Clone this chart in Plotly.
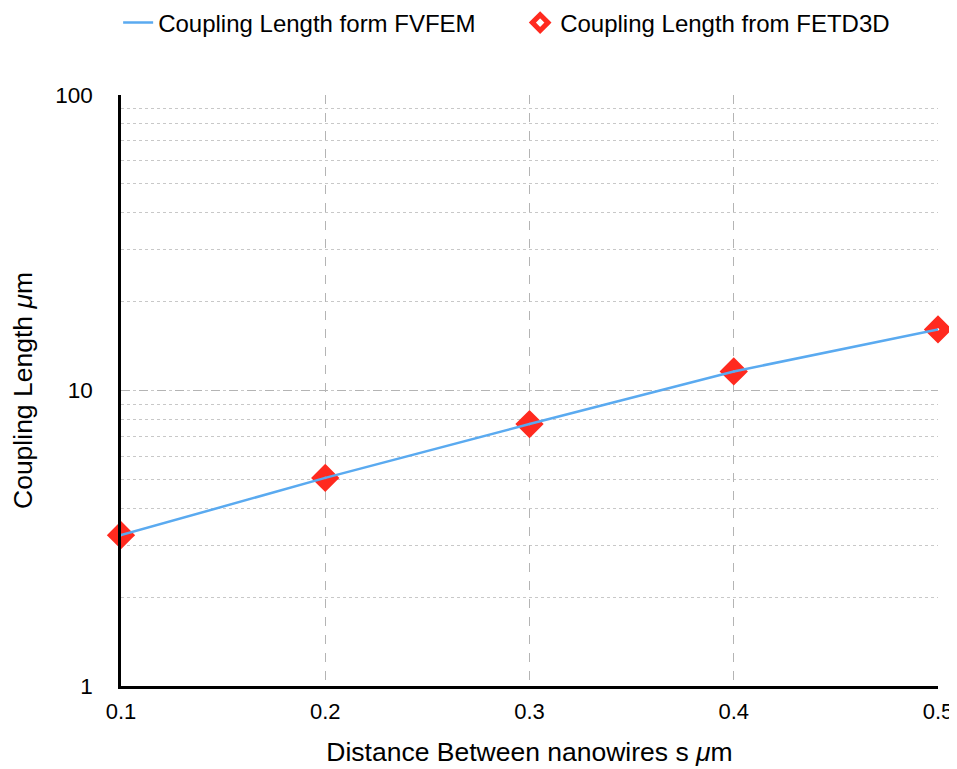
import plotly.graph_objects as go

distance = [0.1, 0.2, 0.3, 0.4, 0.5]
fvfem = [3.24, 5.06, 7.7, 11.6, 16.1]
fetd3d = [3.24, 5.06, 7.7, 11.6, 16.1]

font = "Liberation Sans, Arial, Helvetica, sans-serif"

fig = go.Figure()
fig.add_trace(go.Scatter(
    x=distance, y=fetd3d, mode="markers", name="Coupling Length from FETD3D",
    marker=dict(symbol="diamond-open", size=12, color="#ff2a1f", line=dict(width=9, color="#ff2a1f")),
    legendrank=2, cliponaxis=False,
))
fig.add_trace(go.Scatter(
    x=distance, y=fvfem, mode="lines", name="Coupling Length form FVFEM",
    line=dict(color="#5aaaf0", width=2.5), legendrank=1, cliponaxis=False,
))

fig.update_layout(
    width=949, height=761,
    paper_bgcolor="white", plot_bgcolor="white",
    margin=dict(l=113, r=19, t=87, b=83, autoexpand=False),
    font=dict(family=font, size=22, color="black"),
    showlegend=True,
    legend=dict(orientation="h", x=-0.0035, xanchor="left", y=1.1218, yanchor="middle",
                font=dict(size=24), traceorder="normal", entrywidth=357),
    xaxis=dict(
        range=[0.1, 0.5], tickvals=distance, ticktext=["0.1", "0.2", "0.3", "0.4", "0.5"],
        showline=True, linecolor="black", linewidth=2.5, mirror=False, automargin=False,
        showgrid=True, gridcolor="#b4b4b4", griddash="dash", gridwidth=1.3,
        ticks="", zeroline=False, ticklabelstandoff=4, tickfont=dict(size=22, family=font),
        title=dict(text="Distance Between nanowires s <i>μ</i>m", font=dict(size=26.5), standoff=20),
    ),
    yaxis=dict(
        type="log", range=[0, 2], tickvals=[1, 10, 100], ticktext=["1", "10", "100"],
        showline=True, linecolor="black", linewidth=2.5, automargin=False,
        showgrid=True, gridcolor="#b4b4b4", griddash="dash", gridwidth=1.3,
        ticks="", zeroline=False, ticklabelstandoff=21, tickfont=dict(size=22.5, family=font),
        minor=dict(dtick="D1", showgrid=True, gridcolor="#c8c8c8", griddash="dot", gridwidth=1),
        title=dict(text="Coupling Length <i>μ</i>m", font=dict(size=26.5), standoff=15),
    ),
)

fig.write_html("out.html")
